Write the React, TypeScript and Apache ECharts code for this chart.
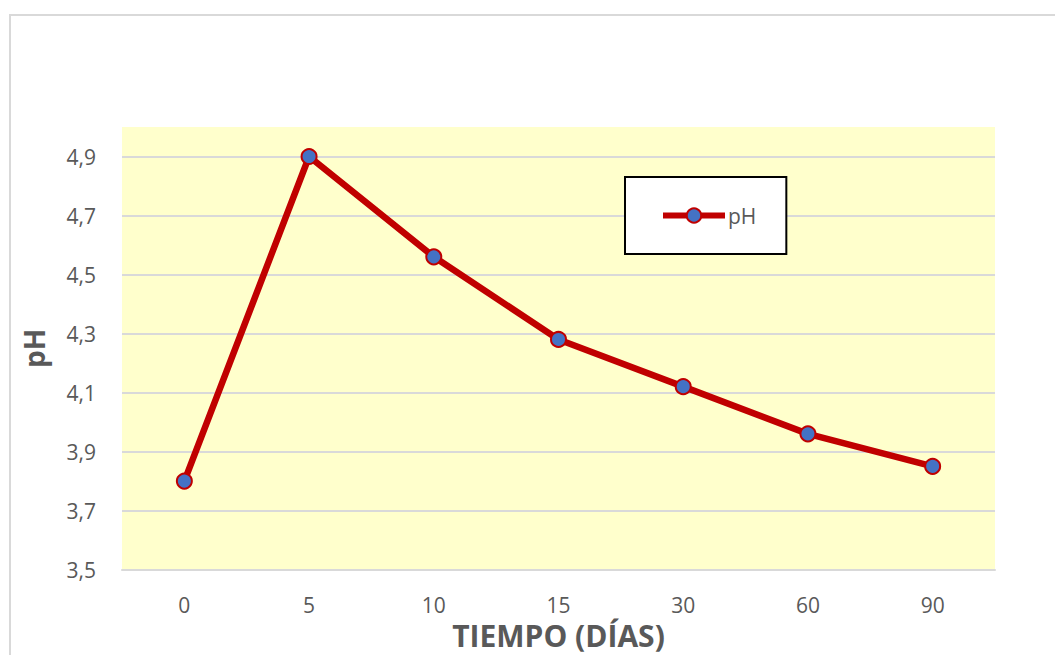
import React, { useEffect, useRef } from "react";
import * as echarts from "echarts";

const categories = ["0", "5", "10", "15", "30", "60", "90"];
const phValues = [3.8, 4.9, 4.56, 4.28, 4.12, 3.96, 3.85];
const seriesName = "pH";
const xTitle = "TIEMPO (DÍAS)";
const yTitle = "pH";
const yMin = 3.5;
const yMax = 5.0;

const FONT = "'Open Sans', sans-serif";
const GRAY = "#595959";

export default function App() {
  const ref = useRef<HTMLDivElement>(null);
  useEffect(() => {
    if (!ref.current) return;
    const chart = echarts.init(ref.current, null, { renderer: "svg" });
    chart.setOption({
      animation: false,
      backgroundColor: "#ffffff",
      textStyle: { fontFamily: FONT },
      graphic: [
        {
          type: "rect",
          shape: { x: 10, y: 15, width: 1100, height: 700 },
          style: { fill: "none", stroke: "#d9d9d9", lineWidth: 2 },
          silent: true,
          z: -10,
        },
      ],
      grid: {
        left: 122,
        top: 127,
        width: 873,
        height: 445,
        show: true,
        backgroundColor: "#FFFFCC",
        borderWidth: 0,
      },
      legend: {
        show: true,
        left: 625,
        top: 177,
        orient: "horizontal",
        backgroundColor: "#ffffff",
        borderColor: "#000000",
        borderWidth: 2,
        borderRadius: 0,
        padding: [28, 30, 28, 35],
        itemWidth: 62,
        itemHeight: 18,
        itemGap: 6,
        lineStyle: { width: 6 },
        textStyle: { color: GRAY, fontSize: 21, fontFamily: FONT, padding: [0, 0, 0, -2] },
        data: [{ name: seriesName }],
      },
      xAxis: {
        type: "category",
        data: categories,
        boundaryGap: true,
        axisLine: { show: true, lineStyle: { color: "#d9d9d9", width: 2 } },
        axisTick: { show: false },
        axisLabel: { color: GRAY, fontSize: 21, fontFamily: FONT, margin: 25, lineHeight: 20 },
        name: xTitle,
        nameLocation: "middle",
        nameGap: 50,
        nameTextStyle: { color: GRAY, fontSize: 30, fontWeight: "bold", fontFamily: FONT, lineHeight: 26 },
      },
      yAxis: {
        type: "value",
        min: yMin,
        max: yMax,
        interval: 0.1,
        axisLine: { show: false },
        axisTick: { show: false },
        axisLabel: {
          color: GRAY,
          fontSize: 21,
          fontFamily: FONT,
          margin: 26,
          formatter: (v: number) => {
            const t = Math.round(v * 10);
            if (t % 2 === 0) return "";
            return (t / 10).toFixed(1).replace(".", ",");
          },
        },
        splitLine: {
          show: true,
          lineStyle: { color: ["#d9d9d9", "rgba(0,0,0,0)"], width: 2 },
        },
        name: yTitle,
        nameLocation: "middle",
        nameRotate: 90,
        nameGap: 74,
        nameTextStyle: { color: GRAY, fontSize: 28, fontWeight: "bold", fontFamily: FONT },
      },
      series: [
        {
          name: seriesName,
          type: "line",
          data: phValues,
          symbol: "circle",
          symbolSize: 15,
          showAllSymbol: true,
          lineStyle: { color: "#C00000", width: 6.5 },
          itemStyle: { color: "#4472C4", borderColor: "#C00000", borderWidth: 2 },
          emphasis: { disabled: true },
        },
      ],
    });
    return () => chart.dispose();
  }, []);
  return (
    <div
      ref={ref}
      style={{ position: "fixed", left: 0, top: 0, width: 1055, height: 655 }}
    />
  );
}
